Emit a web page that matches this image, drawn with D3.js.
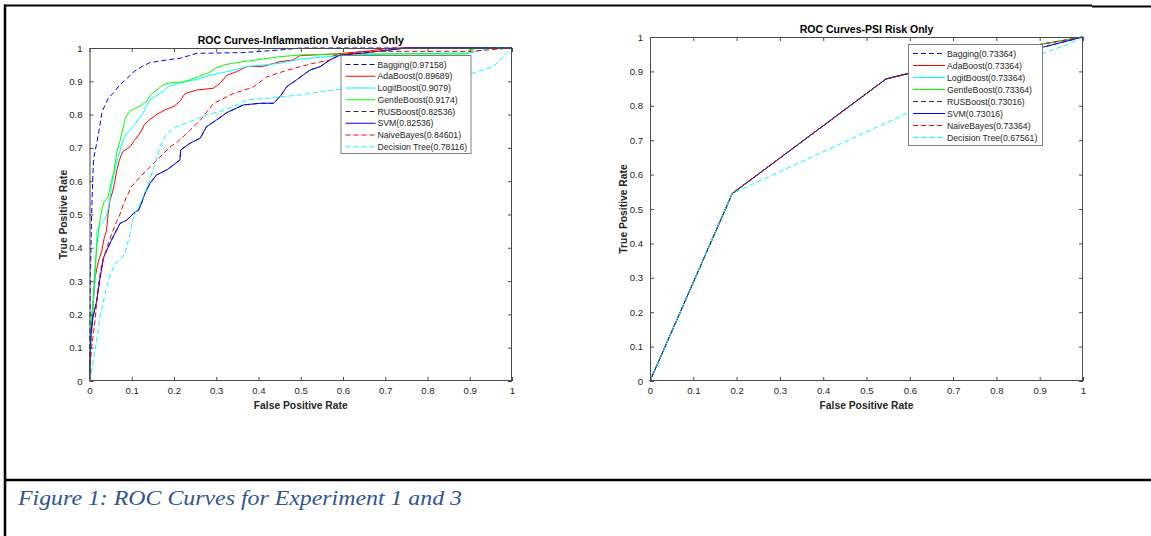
<!DOCTYPE html>
<html>
<head>
<meta charset="utf-8">
<script src="https://cdn.jsdelivr.net/npm/d3@7"></script>
<style>
  html, body { margin: 0; padding: 0; background: #fff; }
  svg { display: block; }
</style>
</head>
<body>
<svg id="fig" width="1151" height="536"></svg>
<script>
// ---------------- DATA ----------------
const methods = ["Bagging", "AdaBoost", "LogitBoost", "GentleBoost", "RUSBoost", "SVM", "NaiveBayes", "Decision Tree"];
const aucInflammation = [0.97158, 0.89689, 0.9079, 0.9174, 0.82536, 0.82536, 0.84601, 0.78116];
const aucPSI = [0.73364, 0.73364, 0.73364, 0.73364, 0.73016, 0.73016, 0.73364, 0.67561];
const tickValues = [0, 0.1, 0.2, 0.3, 0.4, 0.5, 0.6, 0.7, 0.8, 0.9, 1];

// Experiment 1: Inflammation variables only, [FPR, TPR]
const baggingInfl = [[0,0],[0.002,0.3],[0.005,0.5],[0.008,0.62],[0.01,0.67],[0.018,0.72],[0.025,0.77],[0.03,0.81],[0.045,0.85],[0.06,0.87],[0.072,0.89],[0.09,0.91],[0.104,0.928],[0.125,0.945],[0.143,0.956],[0.183,0.964],[0.214,0.969],[0.254,0.984],[0.36,0.986],[0.45,0.994],[0.5,1],[1,1]];
const adaBoostInfl = [[0,0],[0.001,0.07],[0.005,0.14],[0.009,0.24],[0.013,0.31],[0.021,0.36],[0.029,0.39],[0.035,0.43],[0.04,0.45],[0.044,0.5],[0.048,0.54],[0.055,0.57],[0.06,0.6],[0.065,0.635],[0.07,0.66],[0.078,0.688],[0.096,0.704],[0.106,0.722],[0.12,0.745],[0.13,0.77],[0.143,0.785],[0.161,0.802],[0.18,0.815],[0.2,0.825],[0.214,0.84],[0.226,0.863],[0.254,0.874],[0.293,0.879],[0.309,0.894],[0.325,0.918],[0.348,0.929],[0.372,0.944],[0.411,0.945],[0.451,0.959],[0.482,0.964],[0.498,0.977],[0.577,0.982],[0.656,0.99],[0.695,0.997],[0.72,1],[1,1]];
const logitBoostInfl = [[0,0],[0.003,0.1],[0.006,0.2],[0.01,0.25],[0.013,0.3],[0.016,0.4],[0.018,0.455],[0.025,0.468],[0.037,0.485],[0.044,0.515],[0.048,0.545],[0.052,0.585],[0.058,0.62],[0.064,0.655],[0.072,0.69],[0.08,0.725],[0.09,0.745],[0.104,0.765],[0.115,0.785],[0.127,0.805],[0.135,0.825],[0.143,0.845],[0.163,0.86],[0.175,0.87],[0.187,0.885],[0.214,0.895],[0.25,0.905],[0.293,0.92],[0.33,0.93],[0.372,0.944],[0.451,0.954],[0.498,0.967],[0.593,0.977],[0.7,0.982],[0.9,0.985],[0.95,1],[1,1]];
const gentleBoostInfl = [[0,0],[0.002,0.08],[0.004,0.18],[0.008,0.23],[0.012,0.32],[0.017,0.4],[0.023,0.47],[0.03,0.52],[0.035,0.54],[0.043,0.548],[0.05,0.59],[0.058,0.63],[0.065,0.69],[0.072,0.72],[0.085,0.79],[0.095,0.81],[0.11,0.82],[0.125,0.83],[0.135,0.84],[0.145,0.86],[0.16,0.875],[0.175,0.89],[0.19,0.895],[0.22,0.898],[0.24,0.905],[0.26,0.915],[0.28,0.925],[0.3,0.94],[0.32,0.95],[0.37,0.96],[0.45,0.974],[0.5,0.979],[0.6,0.982],[0.893,0.982],[0.9,0.994],[0.92,1],[1,1]];
const svmInfl = [[0,0],[0.001,0.05],[0.003,0.14],[0.008,0.19],[0.017,0.24],[0.025,0.31],[0.033,0.37],[0.041,0.393],[0.052,0.423],[0.064,0.453],[0.072,0.473],[0.088,0.483],[0.104,0.503],[0.116,0.513],[0.123,0.533],[0.13,0.56],[0.143,0.593],[0.159,0.619],[0.183,0.634],[0.199,0.649],[0.214,0.664],[0.216,0.694],[0.238,0.714],[0.262,0.729],[0.277,0.764],[0.301,0.784],[0.325,0.806],[0.364,0.829],[0.404,0.834],[0.435,0.834],[0.451,0.854],[0.467,0.884],[0.49,0.904],[0.522,0.934],[0.546,0.944],[0.569,0.964],[0.593,0.979],[0.65,0.985],[0.695,0.992],[0.75,1],[1,1]];
const rusBoostInfl = [[0,0],[0.001,0.05],[0.003,0.14],[0.008,0.19],[0.017,0.24],[0.025,0.31],[0.033,0.37],[0.041,0.393],[0.052,0.423],[0.064,0.453],[0.072,0.473],[0.088,0.483],[0.104,0.503],[0.116,0.513],[0.123,0.533],[0.13,0.56],[0.143,0.593],[0.159,0.619],[0.183,0.634],[0.199,0.649],[0.214,0.664],[0.216,0.694],[0.238,0.714],[0.262,0.729],[0.277,0.764],[0.301,0.784],[0.325,0.806],[0.364,0.829],[0.404,0.834],[0.435,0.834],[0.451,0.854],[0.467,0.884],[0.49,0.904],[0.522,0.934],[0.546,0.944],[0.569,0.964],[0.593,0.979],[0.65,0.985],[0.695,0.992],[0.75,1],[1,1]];
const naiveBayesInfl = [[0,0],[0.002,0.05],[0.005,0.1],[0.013,0.18],[0.021,0.29],[0.029,0.35],[0.041,0.4],[0.052,0.44],[0.064,0.478],[0.072,0.5],[0.08,0.53],[0.088,0.553],[0.1,0.585],[0.12,0.613],[0.143,0.643],[0.167,0.673],[0.191,0.703],[0.21,0.72],[0.23,0.743],[0.262,0.783],[0.293,0.833],[0.34,0.863],[0.388,0.883],[0.419,0.913],[0.467,0.933],[0.514,0.949],[0.522,0.952],[0.569,0.964],[0.577,0.977],[0.65,0.99],[0.9,0.99],[0.95,0.995],[1,1]];
const decisionTreeInfl = [[0,0],[0.005,0.03],[0.009,0.063],[0.017,0.123],[0.025,0.193],[0.037,0.263],[0.048,0.313],[0.06,0.353],[0.072,0.363],[0.084,0.383],[0.096,0.443],[0.104,0.493],[0.116,0.523],[0.127,0.553],[0.143,0.604],[0.155,0.654],[0.167,0.704],[0.183,0.744],[0.207,0.764],[0.238,0.779],[0.277,0.799],[0.309,0.809],[0.34,0.824],[0.372,0.844],[0.419,0.849],[0.498,0.859],[0.577,0.874],[0.75,0.89],[0.909,0.925],[0.956,0.944],[0.987,0.984],[1,1]];

// Experiment 3: PSI risk only, [FPR, TPR]
const psiMain = [[0,0],[0.19,0.545],[0.545,0.878],[0.6,0.895],[0.9,0.978],[1,1]];
const psiSVM = [[0,0],[0.19,0.545],[0.545,0.878],[0.6,0.895],[0.9,0.968],[1,1]];
const psiTree = [[0,0],[0.19,0.545],[0.593,0.778],[0.908,0.953],[0.962,0.977],[1,1]];

const seriesInfl = [baggingInfl, adaBoostInfl, logitBoostInfl, gentleBoostInfl, rusBoostInfl, svmInfl, naiveBayesInfl, decisionTreeInfl];
const seriesPSI = [psiMain, psiMain, psiMain, psiMain, psiSVM, psiSVM, psiMain, psiTree];

// ---------------- STYLE ----------------
const lineColors = ["#0000FF", "#FF0000", "#00FFFF", "#00FF00", "#333333", "#0000FF", "#FF0000", "#00FFFF"];
const lineDashes = ["5,3", "none", "none", "none", "5,3", "none", "5,3", "5,3"];
const FONT = "'Liberation Sans', Arial, Helvetica, sans-serif";
const AXIS_COLOR = "#4a4a4a";
const TEXT_COLOR = "#262626";

const svg = d3.select("#fig");

// frame lines
svg.append("line").attr("x1", 4).attr("x2", 1092).attr("y1", 5.5).attr("y2", 5.5).style("stroke", "#000").style("stroke-width", 2);
svg.append("line").attr("x1", 1092).attr("x2", 1151).attr("y1", 6.5).attr("y2", 6.5).style("stroke", "#000").style("stroke-width", 2);
svg.append("line").attr("x1", 5).attr("x2", 5).attr("y1", 4.5).attr("y2", 536).style("stroke", "#000").style("stroke-width", 2.5);
svg.append("line").attr("x1", 4).attr("x2", 1151).attr("y1", 480).attr("y2", 480).style("stroke", "#000").style("stroke-width", 2.5);

// caption
svg.append("text")
  .attr("x", 18).attr("y", 505)
  .attr("font-family", "'Liberation Serif', 'DejaVu Serif', serif")
  .attr("font-style", "italic")
  .attr("font-size", 21.5)
  .style("fill", "#2F5496")
  .attr("textLength", 444)
  .attr("lengthAdjust", "spacingAndGlyphs")
  .text("Figure 1: ROC Curves for Experiment 1 and 3");

function drawPanel(cfg) {
  const x = d3.scaleLinear().domain([0, 1]).range([cfg.left, cfg.right]);
  const y = d3.scaleLinear().domain([0, 1]).range([cfg.bottom, cfg.top]);
  const g = svg.append("g");
  const fmt = d => String(+d.toFixed(1));

  g.append("rect").attr("x", cfg.left).attr("y", cfg.top)
    .attr("width", cfg.right - cfg.left).attr("height", cfg.bottom - cfg.top)
    .style("fill", "#fff");

  const styleAxis = (sel, labels) => {
    sel.select(".domain").remove();
    sel.selectAll(".tick line").style("stroke", AXIS_COLOR).style("stroke-width", 1);
    sel.selectAll(".tick text").style("fill", TEXT_COLOR).attr("font-family", FONT).attr("font-size", 9.6);
    if (!labels) sel.selectAll(".tick text").remove();
  };

  // curves
  const line = d3.line().x(d => x(d[0])).y(d => y(d[1]));
  const curves = g.append("g");
  cfg.series.forEach((s, i) => {
    curves.append("path").datum(s)
      .attr("d", line)
      .style("fill", "none")
      .style("stroke", lineColors[i])
      .style("stroke-width", 1)
      .style("stroke-dasharray", lineDashes[i]);
  });

  // axes (ticks inward on all sides)
  g.append("g").attr("transform", `translate(0,${cfg.bottom})`)
    .call(d3.axisBottom(x).tickValues(tickValues).tickSizeInner(-4).tickSizeOuter(0).tickPadding(6).tickFormat(fmt))
    .call(s => styleAxis(s, true));
  g.append("g").attr("transform", `translate(0,${cfg.top})`)
    .call(d3.axisTop(x).tickValues(tickValues).tickSizeInner(-4).tickSizeOuter(0))
    .call(s => styleAxis(s, false));
  g.append("g").attr("transform", `translate(${cfg.left},0)`)
    .call(d3.axisLeft(y).tickValues(tickValues).tickSizeInner(-4).tickSizeOuter(0).tickPadding(7).tickFormat(fmt))
    .call(s => styleAxis(s, true));
  g.append("g").attr("transform", `translate(${cfg.right},0)`)
    .call(d3.axisRight(y).tickValues(tickValues).tickSizeInner(-4).tickSizeOuter(0))
    .call(s => styleAxis(s, false));

  g.append("rect").attr("x", cfg.left + 0.5).attr("y", cfg.top + 0.5)
    .attr("width", cfg.right - cfg.left - 1).attr("height", cfg.bottom - cfg.top - 1)
    .style("fill", "none").style("stroke", AXIS_COLOR).style("stroke-width", 1);

  // title & labels
  const cx = (cfg.left + cfg.right) / 2;
  g.append("text").attr("x", cx).attr("y", cfg.top - 4)
    .attr("text-anchor", "middle").attr("font-family", FONT).attr("font-weight", "bold")
    .attr("font-size", 10.5).style("fill", "#000").text(cfg.title);
  g.append("text").attr("x", cx).attr("y", cfg.bottom + 28)
    .attr("text-anchor", "middle").attr("font-family", FONT).attr("font-weight", "bold")
    .attr("font-size", 10.3).style("fill", TEXT_COLOR).text("False Positive Rate");
  g.append("text")
    .attr("transform", `translate(${cfg.left - 23},${(cfg.top + cfg.bottom) / 2}) rotate(-90)`)
    .attr("text-anchor", "middle").attr("font-family", FONT).attr("font-weight", "bold")
    .attr("font-size", 10.3).style("fill", TEXT_COLOR).text("True Positive Rate");

  // legend
  const L = cfg.legend;
  const lg = g.append("g");
  lg.append("rect").attr("x", L.x + 0.5).attr("y", L.y + 0.5).attr("width", L.w).attr("height", L.h)
    .style("fill", "#fff").style("stroke", "#808080").style("stroke-width", 1);
  methods.forEach((m, i) => {
    const ry = L.y + L.first + i * L.step;
    lg.append("line").attr("x1", L.x + 5).attr("x2", L.x + 5 + L.sample)
      .attr("y1", ry).attr("y2", ry)
      .style("stroke", lineColors[i]).style("stroke-width", 1)
      .style("stroke-dasharray", lineDashes[i]);
    lg.append("text").attr("x", L.x + 7 + L.sample).attr("y", ry)
      .attr("dy", "0.35em").attr("font-family", FONT).attr("font-size", 8.7)
      .style("fill", TEXT_COLOR).text(`${m}(${cfg.auc[i]})`);
  });
}

drawPanel({
  left: 89.5, right: 512, top: 48, bottom: 381,
  title: "ROC Curves-Inflammation Variables Only",
  series: seriesInfl, auc: aucInflammation,
  legend: {x: 340.5, y: 55, w: 130, h: 98, first: 9.5, step: 11.75, sample: 30}
});

drawPanel({
  left: 650, right: 1083, top: 37, bottom: 381,
  title: "ROC Curves-PSI Risk Only",
  series: seriesPSI, auc: aucPSI,
  legend: {x: 908, y: 44, w: 134, h: 101, first: 9.5, step: 12.0, sample: 32}
});
</script>
</body>
</html>
